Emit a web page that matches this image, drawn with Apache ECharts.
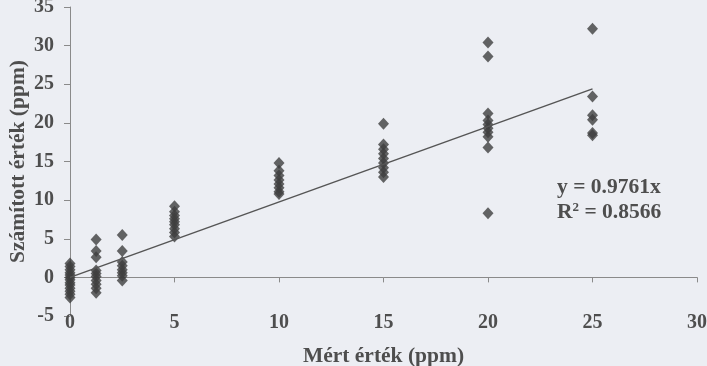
<!DOCTYPE html>
<html><head><meta charset="utf-8">
<script src="https://cdn.jsdelivr.net/npm/echarts@6/dist/echarts.min.js"></script>
<style>html,body{margin:0;padding:0;background:#eceef3}#c{width:707px;height:366px}</style>
</head><body><div id="c"></div>
<script>
// Measured concentration groups (x) and the computed values (y) at each
const xValues = [0, 1.25, 2.5, 5, 10, 15, 20, 25];
const yAtX0    = [1.8, 1.4, 1.0, 0.6, 0.3, 0.0, -0.3, -0.7, -1.0, -1.4, -1.8, -2.2, -2.6];
const yAtX1_25 = [4.9, 3.4, 2.6, 0.9, 0.5, 0.1, -0.4, -0.9, -1.4, -2.0];
const yAtX2_5  = [5.5, 3.4, 2.0, 1.5, 1.0, 0.6, 0.2, -0.4];
const yAtX5    = [9.2, 8.5, 8.0, 7.6, 7.2, 6.8, 6.3, 5.8, 5.3];
const yAtX10   = [14.8, 13.8, 13.2, 12.6, 12.1, 11.6, 11.1, 10.8];
const yAtX15   = [19.9, 17.2, 16.6, 16.0, 15.4, 14.8, 14.2, 13.6, 13.0];
const yAtX20   = [30.4, 28.6, 21.2, 20.3, 19.8, 19.3, 18.8, 18.2, 16.8, 8.3];
const yAtX25   = [32.2, 23.4, 21.0, 20.4, 18.7, 18.4];
const yGroups = [yAtX0, yAtX1_25, yAtX2_5, yAtX5, yAtX10, yAtX15, yAtX20, yAtX25];
// Linear trend line (through origin) endpoints
const trendX = [0, 25];
const trendY = [0, 24.4];
const eqLine1 = 'y = 0.9761x';
const eqR2 = '0.8566';
const xTitle = 'Mért érték (ppm)';
const yTitle = 'Számított érték (ppm)';

const points = [];
xValues.forEach((x, i) => yGroups[i].forEach(y => points.push([x, y])));
const trend = trendX.map((x, i) => [x, trendY[i]]);

const FONT = 'Liberation Serif';
const TXT = '#4e4e4e';
const chart = echarts.init(document.getElementById('c'), null, {renderer: 'canvas'});
chart.setOption({
  backgroundColor: '#eceef3',
  animation: false,
  grid: {left: 70, right: 10, top: 7, bottom: 50, containLabel: false, outerBoundsMode: 'none'},
  xAxis: [{
    type: 'value', min: 0, max: 30, interval: 5,
    axisLine: {show: true, onZero: true, lineStyle: {color: '#8a8a8a', width: 1}},
    axisTick: {show: true, length: 5, lineStyle: {color: '#8a8a8a'}},
    axisLabel: {show: false},
    splitLine: {show: false}
  }, {
    type: 'value', min: 0, max: 30, interval: 5, position: 'bottom',
    axisLine: {show: false}, axisTick: {show: false}, splitLine: {show: false},
    axisLabel: {show: true, margin: -3, color: TXT, fontFamily: FONT, fontWeight: 'bold', fontSize: 20},
    name: xTitle, nameLocation: 'middle', nameGap: 29, nameMoveOverlap: false,
    nameTextStyle: {color: TXT, fontFamily: FONT, fontWeight: 'bold', fontSize: 21.5}
  }],
  yAxis: {
    type: 'value', min: -5, max: 35, interval: 5,
    axisLine: {show: true, onZero: false, lineStyle: {color: '#8a8a8a', width: 1}},
    axisTick: {show: true, length: 6, lineStyle: {color: '#8a8a8a'}},
    axisLabel: {margin: 16, color: TXT, fontFamily: FONT, fontWeight: 'bold', fontSize: 20},
    splitLine: {show: false},
    name: yTitle, nameLocation: 'middle', nameGap: 41, nameMoveOverlap: false,
    nameTextStyle: {color: TXT, fontFamily: FONT, fontWeight: 'bold', fontSize: 21.5}
  },
  series: [{
    type: 'scatter', xAxisIndex: 0, data: points,
    symbol: 'diamond', symbolSize: [11, 12],
    itemStyle: {color: '#3e3e3e'}
  }, {
    type: 'line', xAxisIndex: 0, data: trend, symbol: 'none',
    lineStyle: {color: '#555555', width: 1.5}
  }],
  graphic: [{
    type: 'text', left: 557, top: 176,
    style: {
      text: eqLine1, fill: TXT, font: 'bold 21.5px "Liberation Serif"'
    }
  }, {
    type: 'text', left: 557, top: 201,
    style: {
      text: '{a|R}{s|2}{a| = ' + eqR2 + '}',
      rich: {
        a: {fill: TXT, font: 'bold 21.5px "Liberation Serif"', verticalAlign: 'bottom'},
        s: {fill: TXT, font: 'bold 13px "Liberation Serif"', verticalAlign: 'top', padding: [0, 0, 9, 0]}
      }
    }
  }]
});
</script></body></html>
